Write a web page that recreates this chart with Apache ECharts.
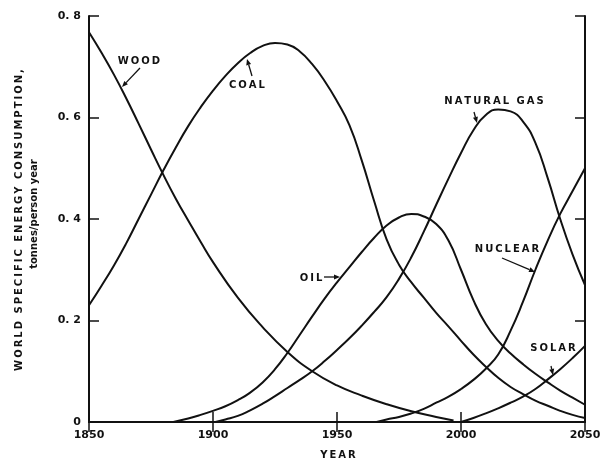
<!DOCTYPE html>
<html>
<head>
<meta charset="utf-8">
<script src="https://cdn.jsdelivr.net/npm/echarts@6/dist/echarts.min.js"></script>
<style>
  html, body { margin: 0; padding: 0; background: #fff; }
  #chart { width: 607px; height: 463px; }
</style>
</head>
<body>
<div id="chart"></div>
<script>
// years and values (tonnes/person year)
var woodYears = [1850, 1855, 1860, 1865, 1870, 1875, 1880, 1885, 1890, 1895, 1900, 1910, 1920, 1930, 1940, 1950, 1960, 1970, 1980, 1990, 1997];
var woodValues = [0.768, 0.728, 0.685, 0.638, 0.588, 0.537, 0.487, 0.44, 0.397, 0.355, 0.315, 0.245, 0.187, 0.138, 0.100, 0.072, 0.052, 0.035, 0.021, 0.010, 0.003];

var coalYears = [1850, 1855, 1860, 1865, 1870, 1875, 1880, 1885, 1890, 1895, 1900, 1905, 1910, 1915, 1920, 1925, 1930, 1935, 1940, 1945, 1950, 1955, 1960, 1965, 1970, 1975, 1980, 1985, 1990, 1995, 2000, 2005, 2010, 2015, 2020, 2025, 2030, 2035, 2040, 2045, 2050];
var coalValues = [0.23, 0.268, 0.308, 0.352, 0.40, 0.448, 0.496, 0.541, 0.583, 0.62, 0.653, 0.682, 0.707, 0.727, 0.741, 0.747, 0.744, 0.73, 0.705, 0.672, 0.632, 0.585, 0.515, 0.435, 0.36, 0.31, 0.275, 0.245, 0.215, 0.188, 0.16, 0.133, 0.109, 0.087, 0.069, 0.055, 0.042, 0.032, 0.022, 0.014, 0.008];

var oilYears = [1884, 1890, 1895, 1900, 1905, 1910, 1915, 1920, 1925, 1930, 1935, 1940, 1945, 1950, 1955, 1960, 1965, 1970, 1975, 1980, 1985, 1990, 1995, 2000, 2005, 2010, 2015, 2020, 2025, 2030, 2035, 2040, 2045, 2050];
var oilValues = [0, 0.007, 0.014, 0.022, 0.031, 0.043, 0.058, 0.078, 0.104, 0.136, 0.172, 0.208, 0.243, 0.275, 0.305, 0.335, 0.363, 0.387, 0.403, 0.41, 0.405, 0.39, 0.357, 0.30, 0.24, 0.193, 0.16, 0.135, 0.114, 0.095, 0.078, 0.062, 0.048, 0.034];

var gasYears = [1901, 1905, 1910, 1915, 1920, 1925, 1930, 1935, 1940, 1945, 1950, 1955, 1960, 1965, 1970, 1975, 1980, 1985, 1990, 1995, 2000, 2005, 2010, 2015, 2020, 2025, 2030, 2035, 2040, 2045, 2050];
var gasValues = [0, 0.005, 0.012, 0.023, 0.036, 0.051, 0.067, 0.083, 0.10, 0.12, 0.142, 0.165, 0.19, 0.217, 0.246, 0.282, 0.325, 0.375, 0.428, 0.48, 0.53, 0.575, 0.605, 0.616, 0.612, 0.592, 0.55, 0.48, 0.40, 0.33, 0.27];

var nuclearYears = [1966, 1970, 1975, 1980, 1985, 1990, 1995, 2000, 2005, 2010, 2015, 2020, 2025, 2030, 2035, 2040, 2045, 2050];
var nuclearValues = [0, 0.005, 0.01, 0.017, 0.026, 0.038, 0.05, 0.065, 0.083, 0.105, 0.133, 0.18, 0.237, 0.30, 0.358, 0.41, 0.455, 0.50];

var solarYears = [2000, 2005, 2010, 2015, 2020, 2025, 2030, 2035, 2040, 2045, 2050];
var solarValues = [0, 0.008, 0.017, 0.027, 0.038, 0.05, 0.065, 0.084, 0.104, 0.126, 0.15];

var yTickLabels = { 0: "0", 0.2: "0. 2", 0.4: "0. 4", 0.6: "0. 6", 0.8: "0. 8" };

function pairs(xs, ys) {
  return xs.map(function (x, i) { return [x, ys[i]]; });
}

function lineSeries(name, xs, ys) {
  return {
    name: name,
    type: "line",
    data: pairs(xs, ys),
    showSymbol: false,
    smooth: 0.5,
    lineStyle: { color: "#111", width: 2 },
    silent: true
  };
}

function spaced(s) {
  return s.split("").join("\u2009");
}

// little annotation arrow: line from (x1,y1) to (x2,y2) with a head at the end
function arrow(x1, y1, x2, y2) {
  var a = Math.atan2(y2 - y1, x2 - x1);
  var len = 6, w = 2.5;
  var bx = x2 - len * Math.cos(a), by = y2 - len * Math.sin(a);
  return [
    { type: "line", shape: { x1: x1, y1: y1, x2: bx, y2: by }, style: { stroke: "#111", lineWidth: 1.3 } },
    { type: "polygon", shape: { points: [[x2, y2], [bx + w * Math.sin(a), by - w * Math.cos(a)], [bx - w * Math.sin(a), by + w * Math.cos(a)]] }, style: { fill: "#111" } }
  ];
}

function label(text, x, y) {
  return {
    type: "text", x: x, y: y,
    style: { text: spaced(text), font: "bold 10px 'DejaVu Sans'", fill: "#111", align: "center", verticalAlign: "middle" }
  };
}

var graphics = [
  label("WOOD", 139, 61),
  label("COAL", 247, 85),
  label("NATURAL GAS", 494, 101),
  label("OIL", 311, 278),
  label("NUCLEAR", 507, 249),
  label("SOLAR", 553, 348),
  {
    type: "text", x: 19, y: 220, rotation: Math.PI / 2,
    style: { text: spaced("WORLD SPECIFIC ENERGY CONSUMPTION,"), font: "bold 10px 'DejaVu Sans'", fill: "#111", align: "center", verticalAlign: "middle" }
  },
  {
    type: "text", x: 34, y: 214, rotation: Math.PI / 2,
    style: { text: "tonnes/person year", font: "bold 10px 'DejaVu Sans'", fill: "#111", align: "center", verticalAlign: "middle" }
  },
  {
    type: "text", x: 338, y: 455,
    style: { text: spaced("YEAR"), font: "bold 10px 'DejaVu Sans'", fill: "#111", align: "center", verticalAlign: "middle" }
  }
]
  .concat(arrow(140, 68, 122, 87))
  .concat(arrow(252, 76, 247, 59))
  .concat(arrow(474, 112, 477, 123))
  .concat(arrow(324, 277, 340, 277))
  .concat(arrow(502, 258, 535, 272))
  .concat(arrow(551, 366, 553, 375));

var axisLineStyle = { color: "#111", width: 2 };

var option = {
  animation: false,
  backgroundColor: "#fff",
  grid: { left: 89, right: 22, top: 16, bottom: 41, containLabel: false },
  xAxis: [
    {
      type: "value", min: 1850, max: 2050, interval: 50,
      axisLine: { lineStyle: axisLineStyle },
      axisTick: { inside: true, length: 10, lineStyle: { color: "#111", width: 1.5 } },
      axisLabel: {
        color: "#111", fontSize: 11, fontWeight: "bold", fontFamily: "DejaVu Sans", margin: 8,
        formatter: function (v) { return String(v); }
      },
      splitLine: { show: false }
    },
    {
      type: "value", position: "top", min: 1850, max: 2050, interval: 50,
      axisLine: { lineStyle: axisLineStyle },
      axisTick: { inside: true, length: 10, lineStyle: { color: "#111", width: 1.5 } },
      axisLabel: { show: false },
      splitLine: { show: false }
    }
  ],
  yAxis: [
    {
      type: "value", min: 0, max: 0.8, interval: 0.2,
      axisLine: { show: true, lineStyle: axisLineStyle },
      axisTick: { show: true, inside: true, length: 10, lineStyle: { color: "#111", width: 1.5 } },
      axisLabel: {
        color: "#111", fontSize: 11, fontWeight: "bold", fontFamily: "DejaVu Sans", margin: 8,
        formatter: function (v) { return yTickLabels[Math.round(v * 10) / 10]; }
      },
      splitLine: { show: false }
    },
    {
      type: "value", position: "right", min: 0, max: 0.8, interval: 0.2,
      axisLine: { show: true, lineStyle: axisLineStyle },
      axisTick: { show: true, inside: true, length: 10, lineStyle: { color: "#111", width: 1.5 } },
      axisLabel: { show: false },
      splitLine: { show: false }
    }
  ],
  series: [
    lineSeries("Wood", woodYears, woodValues),
    lineSeries("Coal", coalYears, coalValues),
    lineSeries("Oil", oilYears, oilValues),
    lineSeries("Natural gas", gasYears, gasValues),
    lineSeries("Nuclear", nuclearYears, nuclearValues),
    lineSeries("Solar", solarYears, solarValues)
  ],
  graphic: graphics
};

var chart = echarts.init(document.getElementById("chart"));
chart.setOption(option);
</script>
</body>
</html>
